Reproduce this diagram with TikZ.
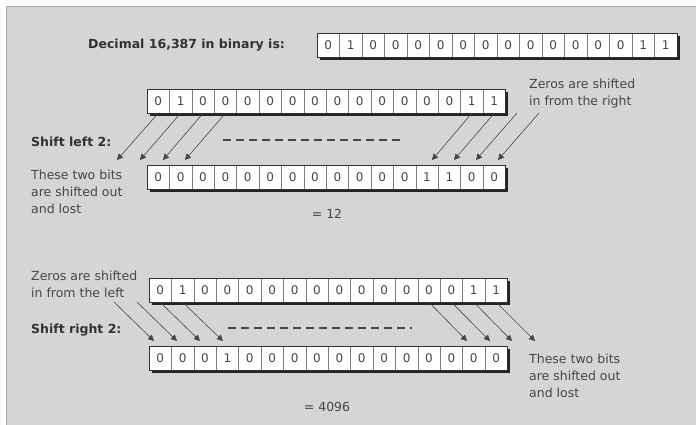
\documentclass[tikz,border=0pt]{standalone}
\usepackage{fontspec}
\setmainfont{DejaVu Sans}
\usetikzlibrary{arrows.meta}
\definecolor{panel}{RGB}{213,213,213}
\definecolor{paneledge}{RGB}{170,170,170}
\definecolor{ink}{RGB}{50,50,50}
\definecolor{soft}{RGB}{70,70,70}
\definecolor{shadowc}{RGB}{35,35,35}
\tikzset{
 cell/.style={draw=soft!70, line width=0.5pt, fill=white, minimum width=22.4pt, minimum height=24pt, inner sep=0pt, font=\fontsize{12}{12}\selectfont, text=soft},
 lbl/.style={inner sep=0pt, anchor=west, align=left, text=soft, font=\fontsize{12.5}{17}\selectfont},
 blbl/.style={inner sep=0pt, anchor=west, align=left, text=ink, font=\fontsize{12.5}{17}\selectfont\bfseries},
 eqlbl/.style={inner sep=0pt, text=soft, font=\fontsize{12.5}{17}\selectfont},
 shiftarrow/.style={draw=soft, line width=0.6pt, -{Triangle[length=6pt,width=6pt]}},
 dashline/.style={draw=soft, line width=1.2pt, dash pattern=on 8pt off 5pt},
}
\newcommand\bitreg[5]{%
  \fill[shadowc] (#2+3,#3+3) rectangle ({#2+16*#4+3},#3+27);
  \foreach \b [count=\i from 0] in {#5} {
    \node[cell, minimum width=#4 pt] (#1c\i) at ({#2+\i*#4+#4/2},{#3+12}) {\b};
  }
  \draw[ink, line width=0.8pt] (#2,#3) rectangle ({#2+16*#4},#3+24);
}
\begin{document}
\begin{tikzpicture}[x=1pt,y=-1pt]
\useasboundingbox (0,0) rectangle (696,425);
\fill[white] (0,0) rectangle (696,425);
\fill[panel] (6,7) rectangle (696,425);
\draw[paneledge, line width=1pt] (6,425) -- (6,7) -- (696,7);

% registers
\bitreg{r1}{317}{33}{22.5}{0,1,0,0,0,0,0,0,0,0,0,0,0,0,1,1}
\bitreg{r2}{147}{89}{22.4}{0,1,0,0,0,0,0,0,0,0,0,0,0,0,1,1}
\bitreg{r3}{147}{165}{22.4}{0,0,0,0,0,0,0,0,0,0,0,0,1,1,0,0}
\bitreg{r4}{149}{278}{22.4}{0,1,0,0,0,0,0,0,0,0,0,0,0,0,1,1}
\bitreg{r5}{149}{346}{22.4}{0,0,0,1,0,0,0,0,0,0,0,0,0,0,0,0}

% labels
\node[blbl] (dec) at (88,45) {Decimal 16,387 in binary is:};
\node[lbl] (zr) at (529,94) {Zeros are shifted\\in from the right};
\node[blbl] (sl) at (31,142) {Shift left 2:};
\node[lbl] (lostl) at (31,192) {These two bits\\are shifted out\\and lost};
\node[eqlbl] (eq12) at (327,214) {= 12};
\node[lbl] (zl) at (31,284) {Zeros are shifted\\in from the left};
\node[blbl] (sr) at (31,330) {Shift right 2:};
\node[lbl] (lostr) at (529,376) {These two bits\\are shifted out\\and lost};
\node[eqlbl] (eq4096) at (327,407) {= 4096};

% dashed lines
\coordinate (d1a) at (223,140); \coordinate (d1b) at (402,140);
\coordinate (d2a) at (228,328); \coordinate (d2b) at (412,328);
\draw[dashline] (d1a) -- (d1b);
\draw[dashline] (d2a) -- (d2b);

% shift left arrows
\coordinate (la1) at (117,160); \coordinate (la2) at (140,160);
\coordinate (la3) at (163,160); \coordinate (la4) at (185,160);
\coordinate (lb1) at (432,160); \coordinate (lb2) at (454,160);
\coordinate (lb3) at (476,160); \coordinate (lb4) at (498,160);
\coordinate (zs1) at (517,113); \coordinate (zs2) at (539,113);
\draw[shiftarrow] (r2c0.south) -- (la1);
\draw[shiftarrow] (r2c1.south) -- (la2);
\draw[shiftarrow] (r2c2.south) -- (la3);
\draw[shiftarrow] (r2c3.south) -- (la4);
\draw[shiftarrow] (r2c14.south) -- (lb1);
\draw[shiftarrow] (r2c15.south) -- (lb2);
\draw[shiftarrow] (zs1) -- (lb3);
\draw[shiftarrow] (zs2) -- (lb4);

% shift right arrows
\coordinate (zt1) at (114,302); \coordinate (zt2) at (137,302);
\coordinate (ra1) at (154,341); \coordinate (ra2) at (177,341);
\coordinate (ra3) at (200,341); \coordinate (ra4) at (223,341);
\coordinate (rb1) at (467,341); \coordinate (rb2) at (490,341);
\coordinate (rb3) at (512,341); \coordinate (rb4) at (535,341);
\draw[shiftarrow] (zt1) -- (ra1);
\draw[shiftarrow] (zt2) -- (ra2);
\draw[shiftarrow] (r4c0.south) -- (ra3);
\draw[shiftarrow] (r4c1.south) -- (ra4);
\draw[shiftarrow] (r4c12.south) -- (rb1);
\draw[shiftarrow] (r4c13.south) -- (rb2);
\draw[shiftarrow] (r4c14.south) -- (rb3);
\draw[shiftarrow] (r4c15.south) -- (rb4);
\end{tikzpicture}
\end{document}
